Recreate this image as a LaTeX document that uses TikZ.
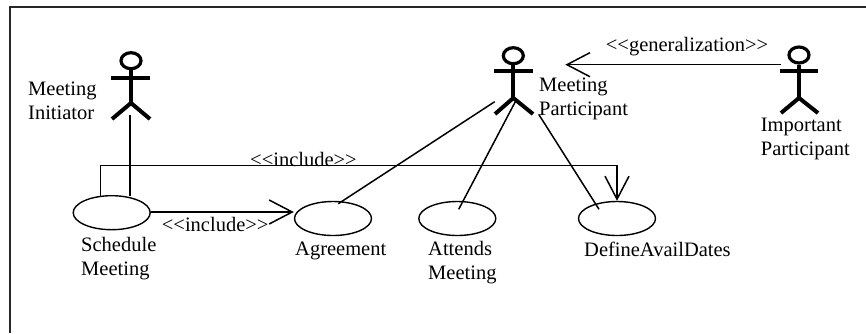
\documentclass[tikz,border=0pt]{standalone}
\usepackage{xcolor}
\usepackage{tikz}
\usepackage{fontspec}
\setmainfont{Liberation Serif}
\usetikzlibrary{shapes.geometric,arrows.meta}
\tikzset{
  usecase/.style={draw,ellipse,line width=1.4pt,minimum width=77pt,minimum height=34pt,inner sep=0pt},
  head/.style={draw,ellipse,line width=3.2pt,minimum width=20pt,minimum height=16pt,inner sep=0pt},
  limb/.style={line width=4pt},
  conn/.style={line width=1.5pt},
  barb/.style={-{Straight Barb[length=23pt,width=24pt,line width=1.5pt]}},
  caption/.style={inner sep=0pt,align=left,anchor=north west,font=\fontsize{20.5}{24}\selectfont},
}
\begin{document}
\begin{tikzpicture}[x=1pt,y=-1pt]
        \useasboundingbox (0,0) rectangle (866,333);
        \draw [line width=1.8pt,black!85] (9.7,333) -- (9.7,7.2) -- (866,7.2);
        % actors
        \node (initiator) [head] at (131,60.7) {};
        \draw [limb] (initiator.south) -- (131,103) coordinate (initiatorhip);
        \draw [limb] (111,78.3) -- (150,78.3);
        \draw [limb] (112,119) -- (initiatorhip) -- (150,119);
        \node (participant) [head] at (513.3,55.7) {};
        \draw [limb] (participant.south) -- (513.3,98) coordinate (participanthip);
        \draw [limb] (494,71.3) -- (533,71.3);
        \draw [limb] (495,114) -- (participanthip) -- (533,114);
        \node (important) [head] at (799,55) {};
        \draw [limb] (important.south) -- (799,98) coordinate (importanthip);
        \draw [limb] (780,71.3) -- (818,71.3);
        \draw [limb] (781,113) -- (importanthip) -- (818,113);
        % use cases
        \node (schedule) [usecase] at (111.7,212.7) {};
        \node (agreement) [usecase] at (333,218.5) {};
        \node (attends) [usecase] at (457.3,218.5) {};
        \node (define) [usecase] at (617,218.5) {};
        % connector ends
        \coordinate (initiatorfoot) at (130,115);
        \coordinate (schedulehand) at (130,196);
        \coordinate (agreementin) at (338.3,203.7);
        \coordinate (attendsin) at (458.7,209.3);
        \coordinate (definein) at (599,209.3);
        \coordinate (partleft) at (494.7,101.7);
        \coordinate (partmid) at (515.3,101.7);
        \coordinate (partright) at (538.7,114.3);
        \coordinate (partarrow) at (565.3,64.7);
        \coordinate (importantarm) at (780.7,64.7);
        \coordinate (scheduleup) at (100.5,196);
        \draw [conn] (initiatorfoot) -- (schedulehand);
        \draw [conn] (partleft) -- (agreementin);
        \draw [conn] (partmid) -- (attendsin);
        \draw [conn] (partright) -- (definein);
        \draw [conn,barb] (importantarm) -- (partarrow);
        \draw [conn,barb] (schedule.east |- 0,212) -- (agreement.west |- 0,212);
        \draw [conn,barb] (scheduleup) -- (100.5,165.5) -| (define.north);
        % labels
        \node (initiatorlbl) [caption] at (28,82) {Meeting\\Initiator};
        \node (participantlbl) [caption] at (539,77.5) {Meeting\\Participant};
        \node (importantlbl) [caption] at (760.7,118) {Important\\Participant};
        \node (schedulelbl) [caption] at (81,237) {Schedule\\Meeting};
        \node (agreementlbl) [caption] at (295,241.5) {Agreement};
        \node (attendslbl) [caption] at (428,241.5) {Attends\\Meeting};
        \node (definelbl) [caption] at (584,241.5) {DefineAvailDates};
        \node (includetop) [caption] at (250,151.7) {<{}<include>{}>};
        \node (includelow) [caption] at (161.7,216.7) {<{}<include>{}>};
        \node (generalization) [caption] at (605.7,36.7) {<{}<generalization>{}>};
\end{tikzpicture}
\end{document}
